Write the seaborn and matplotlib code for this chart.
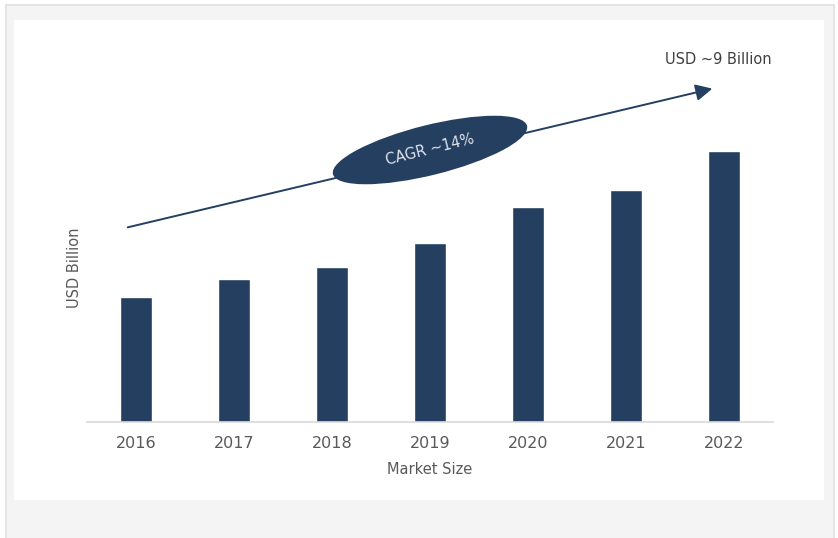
import matplotlib
matplotlib.use("Agg")
import matplotlib.pyplot as plt
import seaborn as sns
import pandas as pd
from matplotlib.patches import Rectangle, Ellipse, FancyArrowPatch
from matplotlib.transforms import IdentityTransform

years = ["2016", "2017", "2018", "2019", "2020", "2021", "2022"]
market_size = [4.13, 4.73, 5.13, 5.92, 7.12, 7.68, 9.0]
cagr_label = "CAGR ~14%"
end_label = "USD ~9 Billion"

sns.set_style("white")
plt.rcParams['font.family'] = ['DejaVu Sans']

W, H = 838, 538
fig = plt.figure(figsize=(W / 100, H / 100), dpi=100)
fig.patch.set_facecolor("white")

def fr(x0, y0, x1, y1):
    return (x0 / W, 1 - y1 / H), (x1 - x0) / W, (y1 - y0) / H

# outer gray frame
xy, w, h = fr(6, 5, 834, 545)
fig.patches.append(Rectangle(xy, w, h, transform=fig.transFigure, facecolor="#f4f4f4",
                             edgecolor="#e0e0e0", linewidth=1.2, zorder=-3))
xy, w, h = fr(14, 20, 824, 500)
fig.patches.append(Rectangle(xy, w, h, transform=fig.transFigure, facecolor="white",
                             edgecolor="none", zorder=-2))

ax = fig.add_axes([87 / W, 1 - 422 / H, 686 / W, (422 - 60) / H])
ax.set_facecolor("none")
df = pd.DataFrame({"Year": years, "Value": market_size})
sns.barplot(data=df, x="Year", y="Value", color="#243f60", saturation=1, width=0.32, ax=ax)
ax.set_ylim(0, 12)
ax.set_xlim(-0.5, len(years) - 0.5)
for s in ["top", "right", "left"]:
    ax.spines[s].set_visible(False)
ax.spines["bottom"].set_color("#d9d9d9")
ax.spines["bottom"].set_linewidth(1.2)
ax.set_yticks([])
ax.tick_params(axis="x", length=0, pad=10, labelsize=11.5, labelcolor="#595959")
ax.set_xlabel("Market Size", fontsize=10.5, color="#595959", labelpad=8)
ax.set_ylabel("USD Billion", fontsize=10.5, color="#595959")
ax.yaxis.set_label_coords(-0.007, 0.425)

# arrow (axes fraction)
arrow = FancyArrowPatch((0.0554, 0.536), (0.9155, 0.9227), transform=ax.transAxes,
                        arrowstyle="-|>,head_length=10,head_width=5", mutation_scale=1,
                        color="#243f60", linewidth=1.4, clip_on=False, zorder=4)
ax.add_patch(arrow)

# ellipse in pixel coords
ell = Ellipse((430, H - 150), width=200, height=50, angle=14, transform=IdentityTransform(),
              facecolor="#243f60", edgecolor="none", zorder=5)
fig.add_artist(ell)
fig.text(430 / W, 1 - 150 / H, cagr_label, rotation=14, ha="center", va="center",
         fontsize=10.5, color="#dde3eb", zorder=6, rotation_mode="anchor")
fig.text(718 / W, 1 - 60 / H, end_label, ha="center", va="center", fontsize=10.5,
         color="#404040")

fig.savefig("out.png", dpi=100)
